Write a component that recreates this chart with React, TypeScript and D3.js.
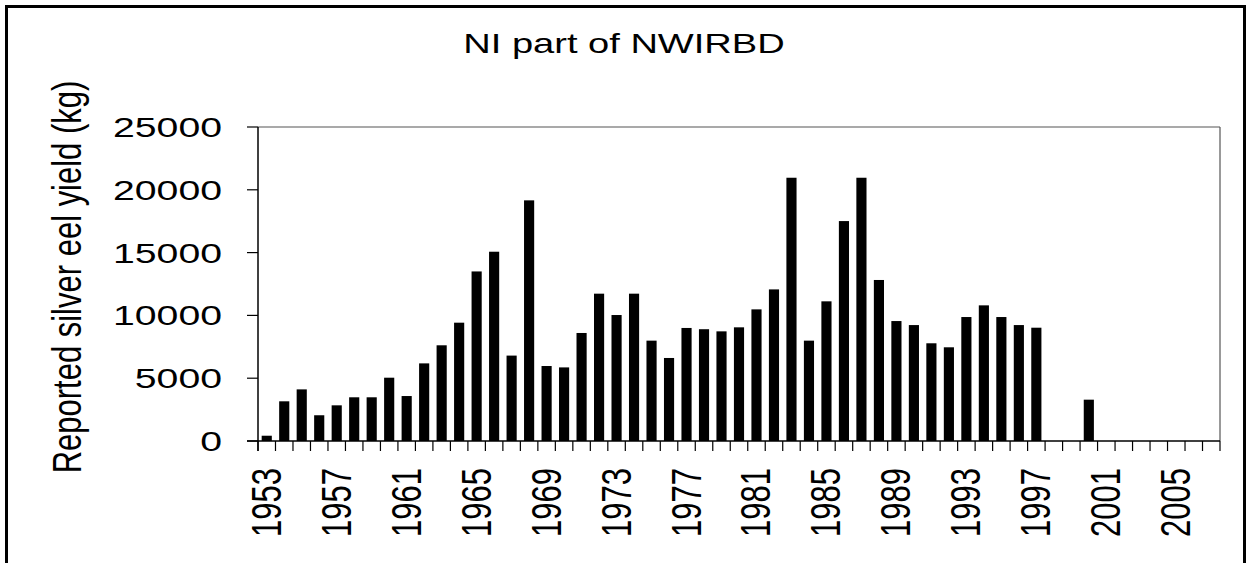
import React from "react";
import * as d3 from "d3";

const years: number[] = d3.range(1953, 2008);
const yieldKg: number[] = [
  420, 3160, 4110, 2050, 2840, 3480, 3480, 5040, 3580, 6180,
  7620, 9420, 13500, 15070, 6800, 19160, 5970, 5860, 8600, 11730,
  10030, 11730, 7990, 6610, 9000, 8900, 8730, 9050, 10480, 12070,
  20960, 7990, 11120, 17510, 20960, 12820, 9550, 9230, 7780, 7460,
  9870, 10800, 9870, 9230, 9020, 0, 0, 3290, 0, 0,
  0, 0, 0, 0, 0,
];
const xTickLabels: number[] = [1953, 1957, 1961, 1965, 1969, 1973, 1977, 1981, 1985, 1989, 1993, 1997, 2001, 2005];
const yTicks: number[] = [0, 5000, 10000, 15000, 20000, 25000];
const title = "NI part of NWIRBD";
const yTitle = "Reported silver eel yield (kg)";

const W = 1247;
const H = 563;
const left = 258;
const right = 1220;
const top = 127;
const bottom = 441;
const FONT = "'Liberation Sans', Arial, sans-serif";

export default function App() {
  const pad = 0.42;
  const x = d3
    .scaleBand<number>()
    .domain(years)
    .range([left, right])
    .paddingInner(pad)
    .paddingOuter(pad / 2);
  const y = d3.scaleLinear().domain([0, 25000]).range([bottom, top]);
  const step = x.step();
  const boundaries = d3.range(0, years.length + 1).map((i) => left + i * step);

  return (
    <svg
      width={W}
      height={H}
      style={{ position: "absolute", left: 0, top: 0, background: "#fff" }}
      fontFamily={FONT}
    >
      <rect x={0} y={0} width={W} height={H} fill="#fff" />
      <rect x={6.5} y={6.5} width={1238} height={700} fill="none" stroke="#000" strokeWidth={3} />

      {/* title */}
      <text
        transform={`translate(624,53) scale(1.36,1)`}
        textAnchor="middle"
        fontSize={28}
        fill="#000"
      >
        {title}
      </text>

      {/* plot frame */}
      <line x1={left} x2={right} y1={top} y2={top} stroke="#555" strokeWidth={1.2} />
      <line x1={right} x2={right} y1={top} y2={bottom} stroke="#555" strokeWidth={1.2} />

      {/* bars */}
      {years.map((yr, i) =>
        yieldKg[i] > 0 ? (
          <rect
            key={yr}
            x={x(yr)}
            y={y(yieldKg[i])}
            width={x.bandwidth()}
            height={bottom - y(yieldKg[i])}
            fill="#000"
          />
        ) : null
      )}

      {/* y axis */}
      <line x1={left} x2={left} y1={top} y2={bottom + 10} stroke="#000" strokeWidth={1.5} />
      {yTicks.map((t) => (
        <g key={t}>
          <line x1={left - 11} x2={left} y1={y(t)} y2={y(t)} stroke="#000" strokeWidth={1.2} />
          <text
            transform={`translate(222,${y(t) + 10}) scale(1.4,1)`}
            textAnchor="end"
            fontSize={28}
            fill="#000"
          >
            {t}
          </text>
        </g>
      ))}

      {/* x axis */}
      <line x1={left - 11} x2={right} y1={bottom} y2={bottom} stroke="#000" strokeWidth={1.5} />
      {boundaries.map((bx, i) => (
        <line key={i} x1={bx} x2={bx} y1={bottom} y2={bottom + 10} stroke="#000" strokeWidth={1.2} />
      ))}
      {xTickLabels.map((yr) => {
        const cx = (x(yr) as number) + x.bandwidth() / 2;
        return (
          <text
            key={yr}
            transform={`translate(${cx + 14},468) scale(1.35,1) rotate(-90)`}
            textAnchor="end"
            fontSize={31}
            fill="#000"
          >
            {yr}
          </text>
        );
      })}

      {/* y title */}
      <text
        transform={`translate(81,277) scale(1.3,1) rotate(-90)`}
        textAnchor="middle"
        fontSize={31}
        fill="#000"
      >
        {yTitle}
      </text>
    </svg>
  );
}
